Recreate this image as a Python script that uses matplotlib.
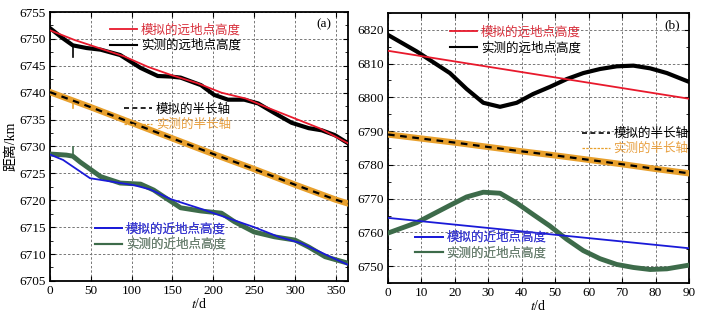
import numpy as np
import matplotlib
matplotlib.use("Agg")
import matplotlib.pyplot as plt
from matplotlib.ticker import MultipleLocator

plt.rcParams['font.family'] = ['Liberation Serif', 'Noto Sans CJK SC']
plt.rcParams['mathtext.fontset'] = 'stix'
plt.rcParams['font.size'] = 9

RED = '#e8192c'
ORANGE = '#e8a02c'
BLUE = '#1a1ad8'
GREEN = '#3d6b4a'

# ---- panel (a): one year ----
t_a = [0, 15, 28, 45, 62, 86, 111, 132, 148, 160, 185, 201, 218, 238, 255, 275, 296, 317, 333, 349, 365]
apo_meas_a = [6752.0, 6750.2, 6748.8, 6748.3, 6748.0, 6747.0, 6744.6, 6743.1, 6743.0, 6742.8,
              6741.4, 6739.6, 6738.7, 6738.7, 6738.0, 6736.2, 6734.4, 6733.4, 6733.0, 6732.1, 6730.6]
t_a_sim = [0, 30, 60, 90, 120, 150, 180, 210, 240, 270, 300, 330, 365]
apo_sim_a = [6751.6, 6749.8, 6748.3, 6746.8, 6744.8, 6743.2, 6741.8, 6740.0, 6738.9, 6737.0, 6735.2, 6733.4, 6730.6]

t_sma_a = [0, 50, 100, 150, 200, 250, 300, 350, 365]
sma_meas_a = [6740.1, 6737.3, 6734.4, 6731.5, 6728.6, 6725.8, 6722.9, 6720.1, 6719.4]
sma_sim_a = [6740.1, 6737.3, 6734.4, 6731.5, 6728.6, 6725.8, 6722.9, 6720.1, 6719.4]

t_peri_a = [0, 20, 28, 37, 62, 86, 111, 127, 144, 160, 185, 210, 226, 250, 275, 300, 317, 337, 365]
peri_meas_a = [6728.6, 6728.4, 6728.2, 6727.1, 6724.4, 6723.2, 6723.0, 6721.9, 6720.2, 6718.6,
               6718.0, 6717.6, 6716.0, 6714.1, 6713.2, 6712.6, 6711.3, 6709.5, 6708.3]
t_peri_sim_a = [0, 16, 49, 103, 123, 148, 185, 250, 280, 308, 349, 365]
peri_sim_a = [6728.5, 6727.5, 6724.1, 6722.8, 6722.0, 6720.2, 6718.4, 6715.0, 6713.2, 6712.0, 6709.1, 6708.0]

# short glitches in the measured data around day 28
t_glitch = [28, 28]
apo_glitch = [6748.8, 6746.6]
sma_glitch = [6738.5, 6737.2]
peri_glitch = [6728.2, 6729.9]

# ---- panel (b): 90 days ----
t_b = [0, 8.6, 18.5, 23.5, 28.5, 33.5, 38.5, 43.4, 48.4, 53.4, 58.4, 63.4, 68.4, 73.4, 78.4, 83.4, 90]
apo_meas_b = [6818.5, 6813.6, 6807.2, 6802.5, 6798.4, 6797.2, 6798.4, 6801.0, 6803.1, 6805.4, 6807.2, 6808.4,
              6809.2, 6809.4, 6808.6, 6807.2, 6804.6]
peri_meas_b = [6759.8, 6762.9, 6768.0, 6770.5, 6771.9, 6771.6, 6768.7, 6765.3, 6761.9, 6758.0, 6754.6, 6752.2,
               6750.5, 6749.6, 6749.0, 6749.2, 6750.3]
t_b_sim = [0, 90]
apo_sim_b = [6813.8, 6799.6]
peri_sim_b = [6764.3, 6755.3]
t_sma_b = [0, 10, 20, 30, 40, 50, 60, 70, 80, 90]
sma_meas_b = [6789.0, 6787.8, 6786.6, 6785.3, 6784.0, 6782.8, 6781.5, 6780.2, 6778.8, 6777.5]
sma_sim_b = [6789.0, 6787.8, 6786.6, 6785.3, 6784.0, 6782.8, 6781.5, 6780.2, 6778.8, 6777.5]

labels = ['模拟的远地点高度', '实测的远地点高度', '模拟的半长轴', '实测的半长轴', '模拟的近地点高度', '实测的近地点高度']
text_colors = ['#d8303c', 'black', 'black', '#e8a040', '#3838d0', '#6a8070']

fig = plt.figure(figsize=(7.07, 3.16), dpi=100)
ax1 = fig.add_axes([0.0707, 0.111, 0.4215, 0.851])
ax2 = fig.add_axes([0.5488, 0.1044, 0.4257, 0.8545])


def style(ax):
    ax.tick_params(direction='in', which='both', top=True, right=True, labelsize=9.5, pad=3)
    ax.tick_params(which='major', length=3.5, width=0.8)
    ax.tick_params(which='minor', length=2, width=0.6)
    ax.grid(True, which='major', linestyle=(0, (2.5, 2)), color='#777777', linewidth=0.7)
    for s in ax.spines.values():
        s.set_linewidth(1.3)
    ax.set_xlabel(r'$t$/d', fontsize=10, labelpad=0)


def add_legend(ax, handles, labs, cols, x, y):
    leg = ax.legend(handles, labs, loc='upper left', bbox_to_anchor=(x, y), frameon=False,
                    borderpad=0, borderaxespad=0, handlelength=2.2, handletextpad=0.3,
                    labelspacing=0.25, fontsize=9)
    for txt, c in zip(leg.get_texts(), cols):
        txt.set_color(c)
    ax.add_artist(leg)


def draw(ax, ta, am, tas, asim, ts, sm, tss, ssim, tp, pm, tps, psim, pos):
    h1, = ax.plot(tas, asim, color=RED, lw=1.3, zorder=4)
    h2, = ax.plot(ta, am, color='black', lw=3, zorder=3)
    h4, = ax.plot(ts, sm, color=ORANGE, lw=4.5, zorder=3)
    h3, = ax.plot(tss, ssim, color='black', lw=1.6, ls=(0, (3, 2.5)), zorder=4)
    h6, = ax.plot(tp, pm, color=GREEN, lw=3.5, zorder=3)
    h5, = ax.plot(tps, psim, color=BLUE, lw=1.3, zorder=4)
    lh2 = plt.Line2D([], [], color='black', lw=1.5)
    lh3 = plt.Line2D([], [], color='black', lw=1.2, ls=(0, (3, 2)))
    lh4 = plt.Line2D([], [], color=ORANGE, lw=0.9, ls=(0, (2, 1)))
    lh6 = plt.Line2D([], [], color=GREEN, lw=1.5)
    add_legend(ax, [h1, lh2], labels[0:2], text_colors[0:2], *pos[0])
    add_legend(ax, [lh3, lh4], labels[2:4], text_colors[2:4], *pos[1])
    add_legend(ax, [h5, lh6], labels[4:6], text_colors[4:6], *pos[2])


draw(ax1, t_a, apo_meas_a, t_a_sim, apo_sim_a, t_sma_a, sma_meas_a, t_sma_a, sma_sim_a,
     t_peri_a, peri_meas_a, t_peri_sim_a, peri_sim_a,
     [(0.2, 0.955), (0.25, 0.66), (0.15, 0.215)])
ax1.plot(t_glitch, apo_glitch, color='black', lw=1.2, zorder=3)
ax1.plot(t_glitch, sma_glitch, color=ORANGE, lw=1.2, zorder=3)
ax1.plot(t_glitch, peri_glitch, color=GREEN, lw=1.2, zorder=3)

draw(ax2, t_b, apo_meas_b, t_b_sim, apo_sim_b, t_sma_b, sma_meas_b, t_sma_b, sma_sim_b,
     t_b, peri_meas_b, t_b_sim, peri_sim_b,
     [(0.205, 0.95), (0.645, 0.575), (0.09, 0.19)])

ax1.set_xlim(0, 365)
ax1.set_ylim(6705, 6755)
ax1.xaxis.set_major_locator(MultipleLocator(50))
ax1.yaxis.set_major_locator(MultipleLocator(5))
ax1.yaxis.set_minor_locator(MultipleLocator(2.5))
style(ax1)
ax1.set_ylabel('距离/km', fontsize=10, labelpad=1)
ax1.text(0.92, 0.955, '(a)', transform=ax1.transAxes, ha='center', va='center', fontsize=9.5)

ax2.set_xlim(0, 90)
ax2.set_ylim(6745, 6825)
ax2.xaxis.set_major_locator(MultipleLocator(10))
ax2.yaxis.set_major_locator(MultipleLocator(10))
ax2.yaxis.set_minor_locator(MultipleLocator(5))
style(ax2)
ax2.text(0.945, 0.955, '(b)', transform=ax2.transAxes, ha='center', va='center', fontsize=9.5)

fig.savefig('out.png', dpi=100)
